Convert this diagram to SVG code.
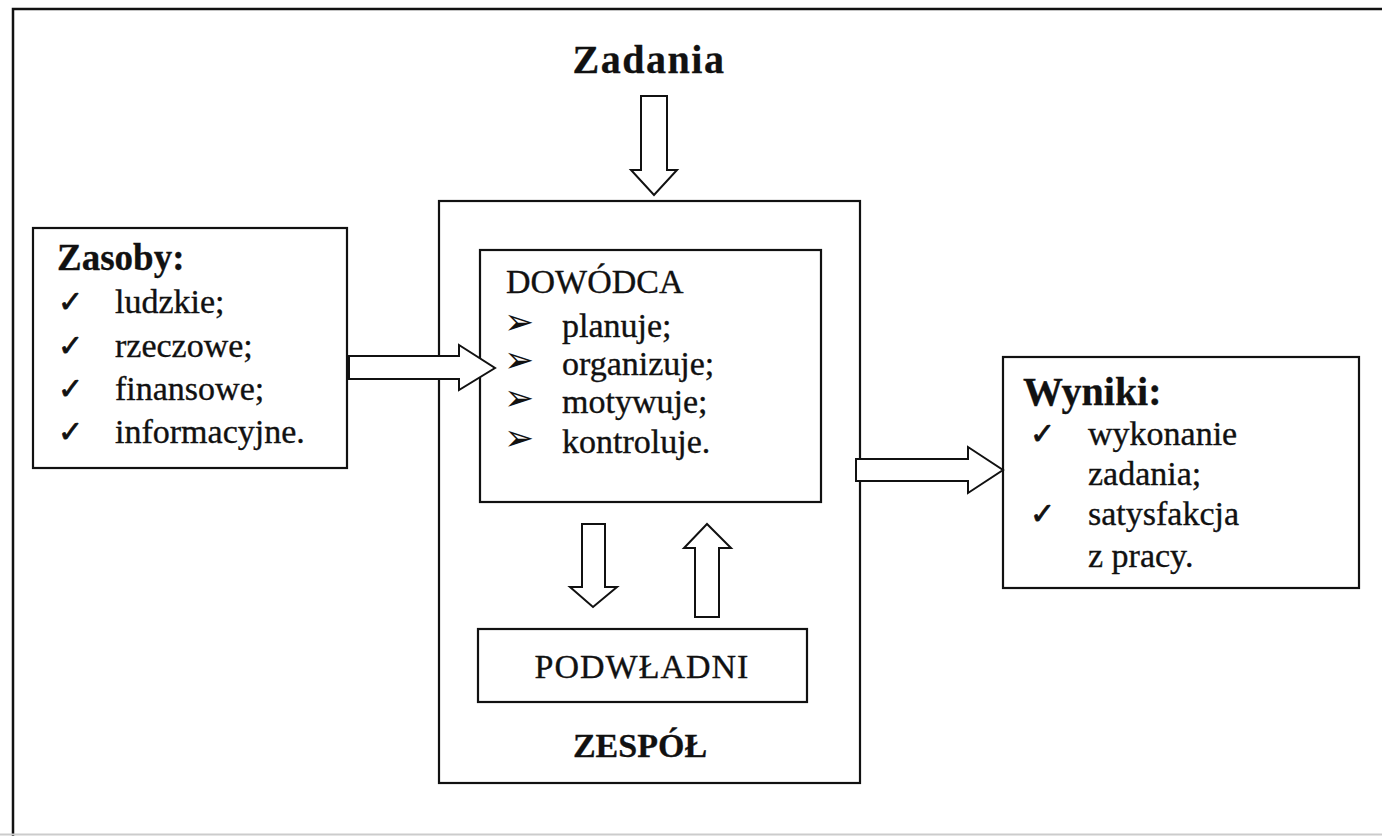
<svg xmlns="http://www.w3.org/2000/svg" width="1382" height="836" viewBox="0 0 1382 836">
  <style>
    .box { fill: #fff; stroke: #111; stroke-width: 2.2; }
    .arrow { fill: #fff; stroke: #111; stroke-width: 2; stroke-linejoin: miter; }
    .t { font-family: "Liberation Serif", "Times New Roman", serif; font-size: 34px; fill: #111; stroke: #111; stroke-width: 0.35; }
    .b { font-family: "Liberation Serif", "Times New Roman", serif; font-weight: bold; fill: #111; stroke: #111; stroke-width: 0.3; }
    .chk { font-family: "DejaVu Sans", sans-serif; font-size: 30px; fill: #111; stroke: #111; stroke-width: 0.8; }
    .blt { font-family: "DejaVu Sans", sans-serif; font-size: 36px; fill: #111; }
  </style>
  <rect width="1382" height="836" fill="#fff"/>

  <!-- page frame -->
  <g id="frame" fill="none">
    <path d="M13 836 V9 H1382" stroke="#111" stroke-width="2.5"/>
    <line x1="0" y1="834.5" x2="1382" y2="834.5" stroke="#ccc" stroke-width="2"/>
  </g>

  <!-- heading -->
  <g id="zadania">
    <text class="b" x="649" y="73" font-size="40" letter-spacing="1.5" text-anchor="middle">Zadania</text>
  </g>

  <!-- team block -->
  <g id="zespol">
    <rect class="box" x="439" y="201" width="421" height="582"/>
    <text class="b" x="640" y="757" font-size="34" text-anchor="middle">ZESPÓŁ</text>
  </g>

  <g id="dowodca">
    <rect class="box" x="480" y="250" width="341" height="252"/>
    <text class="t" x="506" y="293">DOWÓDCA</text>
    <text class="blt" x="504" y="334">➢</text>
    <text class="t" x="562" y="337">planuje;</text>
    <text class="blt" x="504" y="372">➢</text>
    <text class="t" x="562" y="375">organizuje;</text>
    <text class="blt" x="504" y="410">➢</text>
    <text class="t" x="562" y="413">motywuje;</text>
    <text class="blt" x="504" y="450">➢</text>
    <text class="t" x="562" y="453">kontroluje.</text>
  </g>

  <g id="podwladni">
    <rect class="box" x="478" y="629" width="329" height="73"/>
    <text class="t" x="642" y="678" font-size="38" letter-spacing="1" text-anchor="middle">PODWŁADNI</text>
  </g>

  <g id="zasoby">
    <rect class="box" x="33" y="228" width="314" height="240"/>
    <text class="b" x="57" y="270" font-size="37">Zasoby:</text>
    <text class="chk" x="58" y="312">✓</text>
    <text class="t" x="115" y="313">ludzkie;</text>
    <text class="chk" x="58" y="356">✓</text>
    <text class="t" x="115" y="357">rzeczowe;</text>
    <text class="chk" x="58" y="399">✓</text>
    <text class="t" x="115" y="400">finansowe;</text>
    <text class="chk" x="58" y="442">✓</text>
    <text class="t" x="115" y="443">informacyjne.</text>
  </g>

  <g id="wyniki">
    <rect class="box" x="1003" y="357" width="356" height="231"/>
    <text class="b" x="1023" y="405" font-size="40">Wyniki:</text>
    <text class="chk" x="1030" y="444">✓</text>
    <text class="t" x="1088" y="445">wykonanie</text>
    <text class="t" x="1088" y="485">zadania;</text>
    <text class="chk" x="1030" y="524">✓</text>
    <text class="t" x="1088" y="525">satysfakcja</text>
    <text class="t" x="1088" y="567">z pracy.</text>
  </g>

  <!-- block arrows -->
  <g id="connectors">
    <polygon class="arrow" points="641,96 667,96 667,170 677,170 654,195 631,170 641,170"/>
    <polygon class="arrow" points="349,356 459,356 459,345 495,368 459,390 459,379 349,379"/>
    <polygon class="arrow" points="856,459 968,459 968,447 1003,470 968,493 968,481 856,481"/>
    <polygon class="arrow" points="582,524 605,524 605,587 617,587 593,607 570,587 582,587"/>
    <polygon class="arrow" points="695,617 719,617 719,548 731,548 707,524 684,548 695,548"/>
  </g>
</svg>
